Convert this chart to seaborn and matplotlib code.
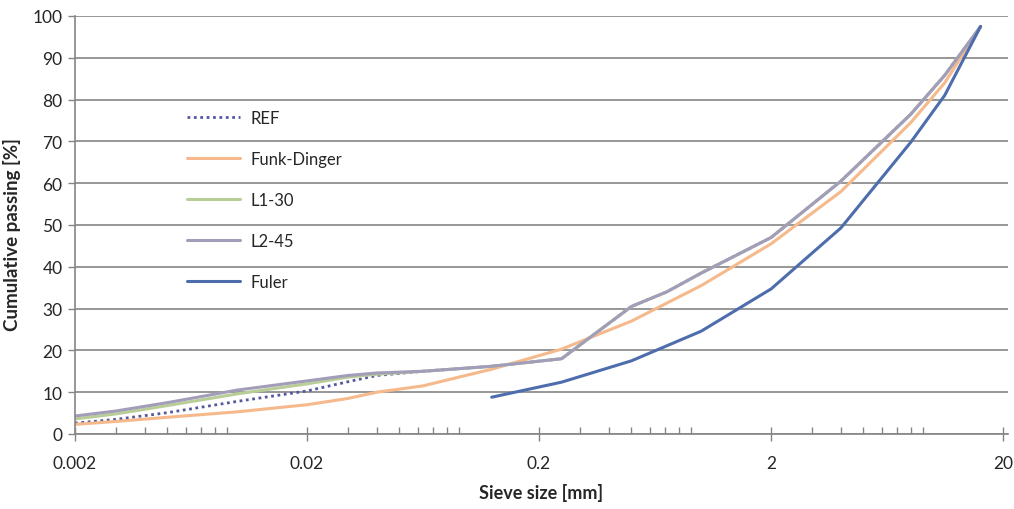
import matplotlib
matplotlib.use("Agg")
import matplotlib.pyplot as plt
import matplotlib.ticker as mticker
import seaborn as sns
import pandas as pd

# ---- data ----
fine_sizes = [0.002, 0.003, 0.005, 0.01, 0.02, 0.03, 0.04, 0.063]
coarse_sizes = [0.125, 0.25, 0.5, 0.71, 1, 2, 4, 8, 11.2, 16]
coarse_mix = [16.2, 18.0, 30.5, 34.0, 38.5, 47.0, 60.5, 76.5, 85.8, 97.5]

ref_fine = [2.6, 3.5, 5.1, 7.8, 10.3, 12.5, 14.0, 15.0]
l1_fine = [3.6, 4.8, 6.8, 9.6, 12.0, 13.6, 14.3, 15.0]
l2_fine = [4.3, 5.5, 7.5, 10.5, 12.7, 14.0, 14.6, 15.0]

fd_sizes = [0.002, 0.003, 0.005, 0.01, 0.02, 0.03, 0.04, 0.063, 0.125,
            0.25, 0.5, 1, 2, 4, 8, 11.2, 16]
fd_values = [2.3, 3.0, 4.0, 5.3, 7.0, 8.5, 10.0, 11.5, 15.5,
             20.3, 27.0, 35.5, 45.5, 58.0, 74.5, 84.0, 97.5]

fuller_sizes = [0.125, 0.25, 0.5, 1, 2, 4, 8, 11.2, 16]
fuller_values = [8.8, 12.4, 17.5, 24.6, 34.7, 49.3, 69.8, 81.0, 97.5]

series_names = ["REF", "Funk-Dinger", "L1-30", "L2-45", "Fuler"]
series_colors = ["#55589f", "#f6b98c", "#b9cd97", "#a29db9", "#4d6dac"]

data = {
    "REF": (fine_sizes + coarse_sizes, ref_fine + coarse_mix),
    "Funk-Dinger": (fd_sizes, fd_values),
    "L1-30": (fine_sizes + coarse_sizes, l1_fine + coarse_mix),
    "L2-45": (fine_sizes + coarse_sizes, l2_fine + coarse_mix),
    "Fuler": (fuller_sizes, fuller_values),
}

x_ticks = [0.002, 0.02, 0.2, 2, 20]
x_tick_labels = ["0.002", "0.02", "0.2", "2", "20"]

# ---- plotting ----
sns.set_theme(style="white")
plt.rcParams["font.family"] = ["Lato", "DejaVu Sans"]

fig = plt.figure(figsize=(10.14, 5.10), dpi=100)
ax = fig.add_axes([75 / 1014, 1 - 435 / 510, (1008 - 75) / 1014, (435 - 17) / 510])

for name, color in zip(series_names, series_colors):
    xs, ys = data[name]
    df = pd.DataFrame({"size": xs, "passing": ys})
    ls = (0, (1, 1.3)) if name == "REF" else "-"
    sns.lineplot(data=df, x="size", y="passing", ax=ax, color=color,
                 linestyle=ls, linewidth=2.2 if name != "REF" else 2.0,
                 label=name, sort=False, estimator=None)

ax.set_xscale("log")
ax.set_xlim(0.002, 21)
ax.set_ylim(0, 100)
ax.set_xticks(x_ticks)
ax.set_xticklabels(x_tick_labels)
ax.xaxis.set_minor_locator(mticker.LogLocator(base=10, subs=range(2, 10)))
ax.xaxis.set_minor_formatter(mticker.NullFormatter())
ax.set_yticks(range(0, 101, 10))

ax.grid(axis="y", color="#858585", linewidth=1.2)
ax.grid(axis="x", visible=False)
ax.set_axisbelow(True)

for s in ["top", "right"]:
    ax.spines[s].set_visible(False)
for s in ["left", "bottom"]:
    ax.spines[s].set_color("#858585")
    ax.spines[s].set_linewidth(1.2)

ax.tick_params(axis="y", which="major", direction="out", length=5, width=1,
               color="#858585", labelsize=12.5, pad=4, left=True)
ax.tick_params(axis="x", which="major", direction="inout", length=10, width=1,
               color="#858585", labelsize=12.5, pad=10, bottom=True)
ax.tick_params(axis="x", which="minor", direction="in", length=5, width=1,
               color="#858585", bottom=True)

ax.set_xlabel("Sieve size [mm]", fontsize=13, fontweight="bold", labelpad=9)
ax.set_ylabel("Cumulative passing [%]", fontsize=13.5, fontweight="bold", labelpad=4)
ax.yaxis.set_label_coords(-0.058, 0.48)

leg = ax.legend(loc="upper left", bbox_to_anchor=(105 / 933, 1 - 87 / 418),
                frameon=False, fontsize=12, handlelength=3.2, handletextpad=0.6,
                labelspacing=1.5, borderaxespad=0)

fig.savefig("out.png", dpi=100)
